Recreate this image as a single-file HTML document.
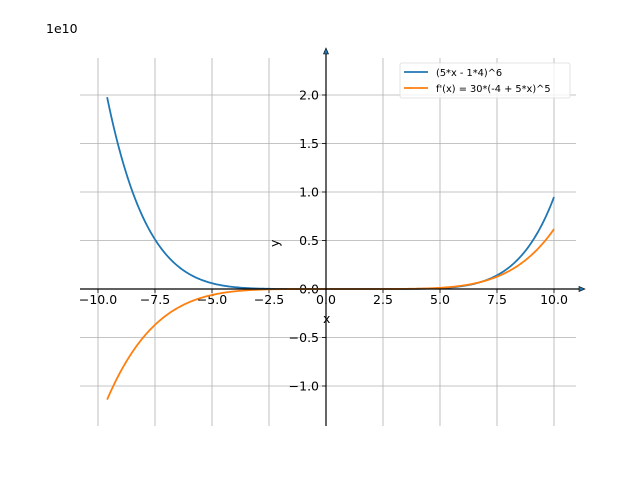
<!DOCTYPE html>
<html><head><meta charset="utf-8"><style>
html,body{margin:0;padding:0;background:#fff;}
svg{display:block;font-family:"DejaVu Sans","Liberation Sans",sans-serif;}
</style></head><body>
<svg id="s" width="640" height="480" viewBox="0 0 640 480" xmlns="http://www.w3.org/2000/svg">
<g id="grid" stroke="#b0b0b0" stroke-width="0.8"></g>
<g id="ticks" font-size="12.5" fill="#000"></g>
<path id="p1" fill="none" stroke="#1f77b4" stroke-width="1.8"/>
<path id="p2" fill="none" stroke="#ff7f0e" stroke-width="1.8"/>
<line x1="80" y1="289" x2="580" y2="289" stroke="#000" stroke-width="1.2"/>
<polygon points="585,289 579,286.5 579,291.5" fill="#1f77b4" stroke="#000" stroke-width="0.6"/>
<line x1="326" y1="426" x2="326" y2="54" stroke="#000" stroke-width="1.2"/>
<polygon points="326,48 323.5,54 328.5,54" fill="#1f77b4" stroke="#000" stroke-width="0.6"/>
<text x="46" y="33" font-size="12.5">1e10</text>
<text x="323" y="323" font-size="12.5">x</text>
<text x="279" y="247" font-size="12.5" transform="rotate(-90 279 247)">y</text>
<rect x="400" y="63" width="170" height="35" rx="2" fill="#fff" fill-opacity="0.8" stroke="#ddd" stroke-width="0.8"/>
<line x1="404" y1="72" x2="428" y2="72" stroke="#1f77b4" stroke-width="1.8"/>
<line x1="404" y1="88" x2="428" y2="88" stroke="#ff7f0e" stroke-width="1.8"/>
<text x="436" y="76" font-size="9.8">(5*x - 1*4)^6</text>
<text x="436" y="92" font-size="9.8">f'(x) = 30*(-4 + 5*x)^5</text>
</svg>
<script>
var X=function(x){return 326+x*22.8;},Y=function(y){return 289-y*97e-10;};
var g=document.getElementById('grid'),t=document.getElementById('ticks'),ns='http://www.w3.org/2000/svg';
function el(p,n,a,txt){var e=document.createElementNS(ns,n);for(var k in a)e.setAttribute(k,a[k]);if(txt!=null)e.textContent=txt;p.appendChild(e);}
[-10,-7.5,-5,-2.5,0,2.5,5,7.5,10].forEach(function(v){var x=X(v);el(g,'line',{x1:x,y1:58,x2:x,y2:426});
el(t,'line',{x1:x,y1:289,x2:x,y2:293,stroke:'#000','stroke-width':0.8});
el(t,'text',{x:x,y:304,'text-anchor':'middle'},(v<0?'\u2212':'')+Math.abs(v).toFixed(1));});
[-1,-0.5,0,0.5,1,1.5,2].forEach(function(v){var y=Y(v*1e10);el(g,'line',{x1:80,y1:y,x2:576,y2:y});
el(t,'line',{x1:322,y1:y,x2:326,y2:y,stroke:'#000','stroke-width':0.8});
el(t,'text',{x:319,y:y+4.5,'text-anchor':'end'},(v<0?'\u2212':'')+Math.abs(v).toFixed(1));});
var a='',b='';for(var i=0;i<=400;i++){var x=-9.6+19.6*i/400,u=5*x-4;
a+=(i?'L':'M')+X(x).toFixed(2)+','+Y(Math.pow(u,6)).toFixed(2);
b+=(i?'L':'M')+X(x).toFixed(2)+','+Y(30*Math.pow(u,5)).toFixed(2);}
document.getElementById('p1').setAttribute('d',a);document.getElementById('p2').setAttribute('d',b);
</script>
</body></html>
